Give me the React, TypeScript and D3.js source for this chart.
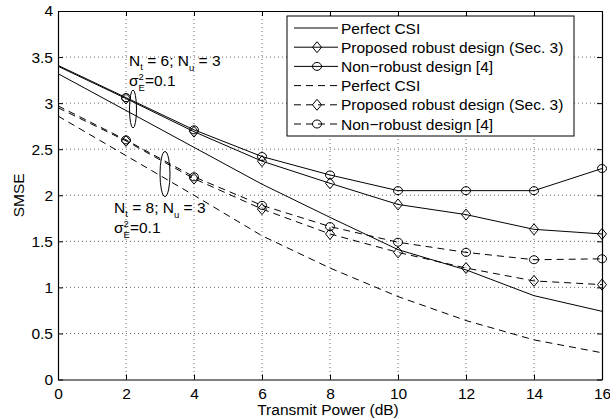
import React, { useEffect, useRef } from "react";
import * as d3 from "d3";

// transmit power (dB)
const power = [0, 2, 4, 6, 8, 10, 12, 14, 16];

// Nt = 6 (solid)
const perfect6 = [3.32, 2.92, 2.52, 2.12, 1.76, 1.41, 1.19, 0.91, 0.74];
const robust6 = [3.4, 3.05, 2.69, 2.37, 2.13, 1.9, 1.79, 1.63, 1.58];
const nonRobust6 = [3.41, 3.06, 2.71, 2.42, 2.22, 2.05, 2.05, 2.05, 2.29];

// Nt = 8 (dashed)
const perfect8 = [2.86, 2.43, 2.0, 1.56, 1.21, 0.9, 0.64, 0.43, 0.29];
const robust8 = [2.95, 2.59, 2.18, 1.85, 1.58, 1.38, 1.21, 1.07, 1.03];
const nonRobust8 = [2.97, 2.6, 2.2, 1.89, 1.66, 1.49, 1.38, 1.3, 1.31];

const xTicks = [0, 2, 4, 6, 8, 10, 12, 14, 16];
const yTicks = [0, 0.5, 1, 1.5, 2, 2.5, 3, 3.5, 4];

const seriesLabels = [
  "Perfect CSI",
  "Proposed robust design (Sec. 3)",
  "Non\u2212robust design [4]",
  "Perfect CSI",
  "Proposed robust design (Sec. 3)",
  "Non\u2212robust design [4]",
];

const FONT = "'Liberation Sans', Arial, Helvetica, sans-serif";
const FS = 15.5;

function drawChart(node: SVGSVGElement) {
  const margin = { top: 11, right: 8, bottom: 39.5, left: 58 };
  const width = 610 - margin.left - margin.right,
    height = 419 - margin.top - margin.bottom;

  const svg = d3.select(node);
  svg.selectAll("*").remove();

  const g = svg.append("g").attr("transform", `translate(${margin.left},${margin.top})`);

  const x = d3.scaleLinear().domain([0, 16]).range([0, width]);
  const y = d3.scaleLinear().domain([0, 4]).range([height, 0]);

  // grid
  g.append("g")
    .selectAll("line.vg")
    .data(xTicks.slice(1, -1))
    .enter()
    .append("line")
    .attr("x1", d => x(d))
    .attr("x2", d => x(d))
    .attr("y1", 0)
    .attr("y2", height)
    .attr("stroke", "#000")
    .attr("stroke-width", 0.6)
    .attr("stroke-dasharray", "1,3");
  g.append("g")
    .selectAll("line.hg")
    .data(yTicks.slice(1, -1))
    .enter()
    .append("line")
    .attr("x1", 0)
    .attr("x2", width)
    .attr("y1", d => y(d))
    .attr("y2", d => y(d))
    .attr("stroke", "#000")
    .attr("stroke-width", 0.6)
    .attr("stroke-dasharray", "1,3");

  // axes (ticks inside, box like matlab)
  const tick = 5;
  const axB = g.append("g").attr("transform", `translate(0,${height})`).call(d3.axisBottom(x).tickValues(xTicks).tickSizeInner(-tick).tickSizeOuter(0).tickPadding(8));
  const axT = g.append("g").call(d3.axisTop(x).tickValues(xTicks).tickSizeInner(-tick).tickSizeOuter(0).tickFormat(() => ""));
  const axL = g.append("g").call(d3.axisLeft(y).tickValues(yTicks).tickSizeInner(-tick).tickSizeOuter(0).tickPadding(5).tickFormat(d => String(d)));
  const axR = g.append("g").attr("transform", `translate(${width},0)`).call(d3.axisRight(y).tickValues(yTicks).tickSizeInner(-tick).tickSizeOuter(0).tickFormat(() => ""));
  [axB, axT, axL, axR].forEach(a => {
    a.select(".domain").attr("stroke", "#000").attr("stroke-width", 1.2);
    a.selectAll("text").attr("font-family", FONT).attr("font-size", FS).attr("fill", "#000");
  });

  // series
  const data = [
    { vals: perfect6, dash: null, marker: "none" },
    { vals: robust6, dash: null, marker: "diamond" },
    { vals: nonRobust6, dash: null, marker: "circle" },
    { vals: perfect8, dash: "7,5", marker: "none" },
    { vals: robust8, dash: "7,5", marker: "diamond" },
    { vals: nonRobust8, dash: "7,5", marker: "circle" },
  ];

  const line = d3.line<number>().x((d, i) => x(power[i])).y(d => y(d));

  const drawMarker = (sel: any, type: string, cx: number, cy: number) => {
    if (type === "diamond") {
      sel.append("path")
        .attr("d", `M${cx},${cy - 5.5}L${cx + 4.5},${cy}L${cx},${cy + 5.5}L${cx - 4.5},${cy}Z`)
        .attr("fill", "none").attr("stroke", "#000").attr("stroke-width", 1);
    } else if (type === "circle") {
      sel.append("ellipse")
        .attr("cx", cx).attr("cy", cy).attr("rx", 4.5).attr("ry", 4)
        .attr("fill", "none").attr("stroke", "#000").attr("stroke-width", 1);
    }
  };

  data.forEach(s => {
    g.append("path")
      .attr("d", line(s.vals))
      .attr("fill", "none")
      .attr("stroke", "#000")
      .attr("stroke-width", 1)
      .attr("stroke-dasharray", s.dash);
    s.vals.forEach((v, i) => {
      if (i > 0) drawMarker(g, s.marker, x(power[i]), y(v));
    });
  });

  // annotations
  const note = (tx: number, ty: number, nt: string) => {
    const t = svg.append("text").attr("x", tx).attr("y", ty)
      .attr("font-family", FONT).attr("font-size", FS).attr("fill", "#000");
    t.append("tspan").text("N");
    t.append("tspan").attr("font-size", 9.5).attr("dy", 3.5).text("t");
    t.append("tspan").attr("dy", -3.5).text(` = ${nt}; N`);
    t.append("tspan").attr("font-size", 9.5).attr("dy", 5).text("u");
    t.append("tspan").attr("dy", -5).text(" = 3");
    const s = svg.append("text").attr("x", tx).attr("y", ty + 20)
      .attr("font-family", FONT).attr("font-size", FS).attr("fill", "#000");
    s.append("tspan").text("\u03c3");
    s.append("tspan").attr("font-size", 9.5).attr("dy", -6).text("2");
    s.append("tspan").attr("font-size", 9.5).attr("dx", -5.3).attr("dy", 11).text("E");
    s.append("tspan").attr("dy", -5).text("=0.1");
  };
  note(129, 66, "6");
  note(114, 213, "8");

  svg.append("ellipse").attr("cx", 133).attr("cy", 109).attr("rx", 3.5).attr("ry", 19)
    .attr("fill", "none").attr("stroke", "#000").attr("stroke-width", 1);
  svg.append("ellipse").attr("cx", 165).attr("cy", 174).attr("rx", 5).attr("ry", 22.5)
    .attr("fill", "none").attr("stroke", "#000").attr("stroke-width", 1);

  // legend
  const lx = 287, ly = 16, lw = 287, lh = 120;
  const legend = svg.append("g");
  legend.append("rect").attr("x", lx).attr("y", ly).attr("width", lw).attr("height", lh)
    .attr("fill", "#fff").attr("stroke", "#000").attr("stroke-width", 1);
  data.forEach((s, i) => {
    const ry = 28 + i * 19.2;
    legend.append("line").attr("x1", 294).attr("x2", 338).attr("y1", ry).attr("y2", ry)
      .attr("stroke", "#000").attr("stroke-width", 1).attr("stroke-dasharray", s.dash);
    drawMarker(legend, s.marker, 317, ry);
    legend.append("text").attr("x", 341).attr("y", ry + 5.5)
      .attr("font-family", FONT).attr("font-size", FS).attr("fill", "#000")
      .text(seriesLabels[i]);
  });

  // axis labels
  svg.append("text").attr("x", margin.left + width / 2 - 2).attr("y", 415)
    .attr("text-anchor", "middle").attr("font-family", FONT).attr("font-size", FS)
    .text("Transmit Power (dB)");
  svg.append("text").attr("transform", `translate(24,${margin.top + height / 2}) rotate(-90)`)
    .attr("text-anchor", "middle").attr("font-family", FONT).attr("font-size", FS)
    .text("SMSE");
}

export default function App() {
  const ref = useRef<SVGSVGElement>(null);
  useEffect(() => {
    if (ref.current) drawChart(ref.current);
  }, []);
  return (
    <svg
      ref={ref}
      width={610}
      height={419}
      style={{ position: "absolute", left: 0, top: 0, background: "#fff" }}
    />
  );
}
